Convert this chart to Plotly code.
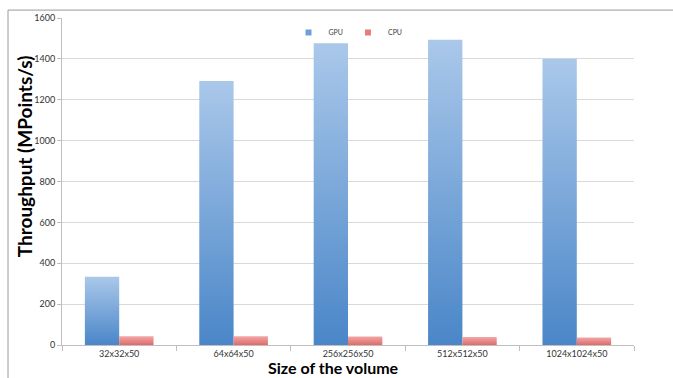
import plotly.graph_objects as go

# Throughput measured for each volume size
sizes = ["32x32x50", "64x64x50", "256x256x50", "512x512x50", "1024x1024x50"]
gpu_throughput = [334, 1292, 1477, 1493, 1401]
cpu_throughput = [43, 43, 42, 39, 37]
y_ticks = [0, 200, 400, 600, 800, 1000, 1200, 1400, 1600]

series = [
    ("GPU", gpu_throughput, -0.30, ["#4a86c8", "#aac8ea"], "#6f9fd8"),
    ("CPU", cpu_throughput, 0.00, ["#de6a6a", "#f2a7a7"], "#e87c7c"),
]
BAR_W = 0.30

fig = go.Figure()
for name, values, offset, (dark, light), key_color in series:
    for i, v in enumerate(values):
        x0, x1 = i + offset, i + offset + BAR_W
        fig.add_trace(go.Scatter(
            x=[x0, x0, x1, x1, x0],
            y=[0, v, v, 0, 0],
            mode="none",
            fill="toself",
            fillgradient=dict(type="vertical",
                              colorscale=[[0, dark], [1, light]]),
            name=name,
            legendgroup=name,
            showlegend=False,
            hoverinfo="text",
            text=f"{sizes[i]}: {v}",
        ))
    # legend key: small square swatch
    fig.add_trace(go.Scatter(
        x=[None], y=[None], mode="markers", name=name, legendgroup=name,
        marker=dict(symbol="square", size=6, color=key_color),
        showlegend=True,
    ))

FAMILY = "Lato, Open Sans, sans-serif"
axis_font = dict(family=FAMILY, size=9, color="#333333")

fig.update_layout(
    width=673, height=378,
    margin=dict(l=62, r=39, t=15, b=33),
    paper_bgcolor="white",
    plot_bgcolor="white",
    font=axis_font,
    showlegend=True,
    legend=dict(orientation="h", x=0.5, xanchor="center", xref="paper",
                y=1.0, yanchor="top", yref="paper",
                font=dict(family=FAMILY, size=7, color="#404040"),
                itemwidth=30, tracegroupgap=0, bgcolor="rgba(0,0,0,0)"),
    xaxis=dict(
        range=[-0.5, 4.5],
        tickvals=list(range(len(sizes))),
        ticktext=sizes,
        ticks="",
        showgrid=False,
        zeroline=False,
        showline=True, linecolor="#bfbfbf", linewidth=1,
        minor=dict(tick0=-0.5, dtick=1, ticks="outside", ticklen=5,
                   tickcolor="#bfbfbf", showgrid=False),
        fixedrange=True,
    ),
    yaxis=dict(
        range=[0, 1600],
        tickvals=y_ticks,
        ticks="outside", ticklen=4, tickcolor="#bfbfbf",
        showgrid=True, gridcolor="#d9d9d9", gridwidth=1,
        zeroline=False,
        showline=True, linecolor="#bfbfbf", linewidth=1,
        fixedrange=True,
    ),
    annotations=[
        dict(text="<b>Throughput (MPoints/s)</b>", textangle=-90,
             xref="paper", yref="paper", x=-0.0665, y=0.577,
             xanchor="center", yanchor="middle", showarrow=False,
             font=dict(family=FAMILY, size=19, color="#000000")),
        dict(text="<b>Size of the volume</b>",
             xref="paper", yref="paper", x=0.474, y=-0.0697,
             xanchor="center", yanchor="middle", showarrow=False,
             font=dict(family=FAMILY, size=16, color="#000000")),
    ],
    shapes=[
        # chart frame
        dict(type="rect", xref="paper", yref="paper",
             x0=-0.0944, x1=1.2, y0=-0.2, y1=1.0242,
             line=dict(color="#9a9a9a", width=1), layer="below"),
    ],
)

fig.write_html("out.html")
